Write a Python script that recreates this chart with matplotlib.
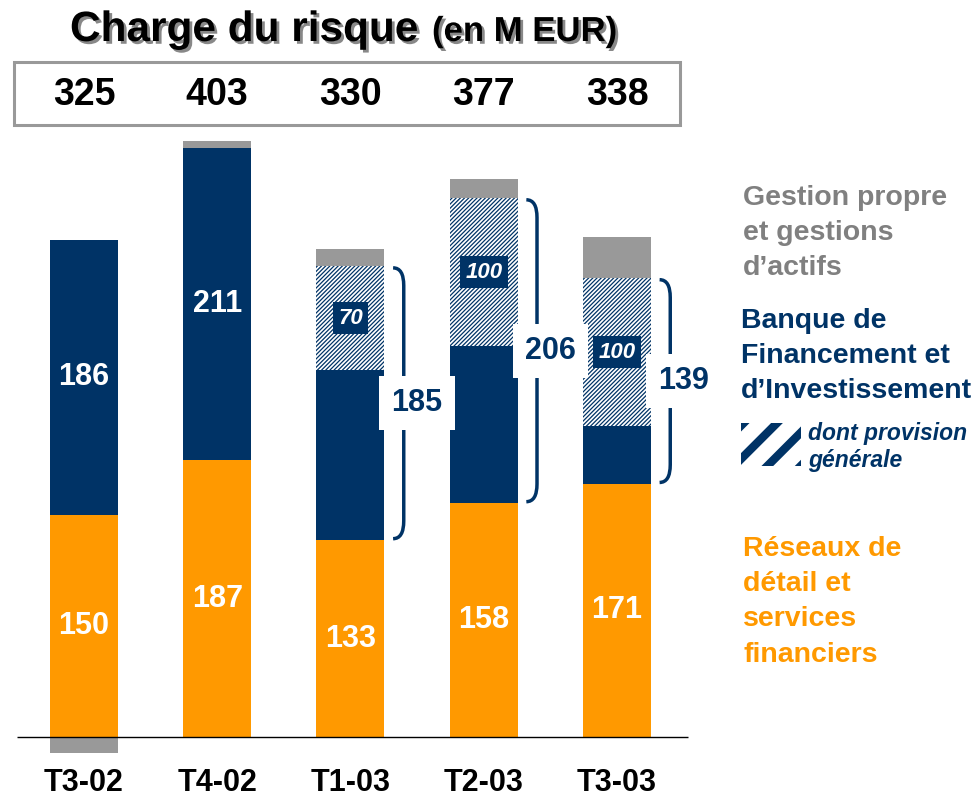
import matplotlib
matplotlib.use("Agg")
import matplotlib.pyplot as plt
import matplotlib.patheffects as pe
from matplotlib.patches import Rectangle, PathPatch
from matplotlib.path import Path

plt.rcParams['font.family'] = ['Liberation Sans', 'DejaVu Sans']
plt.rcParams['font.weight'] = 'bold'

# data (M EUR)
quarters = ['T3-02', 'T4-02', 'T1-03', 'T2-03', 'T3-03']
reseaux = [150, 187, 133, 158, 171]
bfi = [186, 211, 185, 206, 139]
provision = [0, 0, 70, 100, 100]
gestion = [-11, 5, 12, 13, 28]
totals = [325, 403, 330, 377, 338]
brace_bars = [2, 3, 4]

ORANGE = '#FF9900'
NAVY = '#003366'
GRAY = '#999999'

fig = plt.figure(figsize=(9.79, 7.99), dpi=100)
ax = fig.add_axes([0, 0, 1, 1])
# axes covers whole figure: 1.48 px per M EUR, bar spacing 133 px
ax.set_xlim(-0.630, 6.717)
ax.set_ylim(-41.9, 498)
ax.axis('off')

x = list(range(len(quarters)))
w = 0.51
solid = [b - p for b, p in zip(bfi, provision)]
top_bfi = [r + b for r, b in zip(reseaux, bfi)]

ax.bar(x, reseaux, w, color=ORANGE, linewidth=0)
ax.bar(x, solid, w, bottom=reseaux, color=NAVY, linewidth=0)
with plt.rc_context({'hatch.linewidth': 0.9}):
    ax.bar(x, provision, w, bottom=[r + s for r, s in zip(reseaux, solid)],
           color='white', edgecolor=NAVY, hatch='////////', linewidth=0)
g_bottom = [t if g > 0 else 0 for t, g in zip(top_bfi, gestion)]
ax.bar(x, gestion, w, bottom=g_bottom, color=GRAY, linewidth=0)
ax.hlines(0, -0.5, 4.53, color='black', linewidth=1)

# labels inside the bars
for i in x:
    ax.text(i, reseaux[i] / 2, str(reseaux[i]), ha='center', va='center',
            color='white', fontsize=22)
    if provision[i] == 0:
        ax.text(i, reseaux[i] + bfi[i] / 2, str(bfi[i]), ha='center', va='center',
                color='white', fontsize=22)
    else:
        ax.text(i, reseaux[i] + solid[i] + provision[i] / 2, str(provision[i]),
                ha='center', va='center', color='white', fontsize=16, style='italic',
                bbox=dict(boxstyle='square,pad=0.25', fc=NAVY, ec='none'))

# braces around BFI for the last three quarters
for i in brace_bars:
    bx = i + 0.40
    y0 = reseaux[i] + 1
    y1 = top_bfi[i] - 1
    dx, dy = 0.08, 12
    verts = [(bx - dx, y1), (bx, y1), (bx, y1 - dy),
             (bx, y0 + dy),
             (bx, y0), (bx - dx, y0)]
    codes = [Path.MOVETO, Path.CURVE3, Path.CURVE3, Path.LINETO, Path.CURVE3, Path.CURVE3]
    ax.add_patch(PathPatch(Path(verts, codes), fill=False, ec=NAVY, lw=2.5))
    ax.text(i + 0.5, (y0 + y1) / 2, str(bfi[i]), ha='center', va='center',
            color=NAVY, fontsize=22,
            bbox=dict(boxstyle='square,pad=0.4', fc='white', ec='none'))

# category labels
for i in x:
    ax.text(i, 0.02, quarters[i], transform=ax.get_xaxis_transform(),
            ha='center', va='center', fontsize=22, color='black')

# totals box
fig.patches.append(Rectangle((14 / 979, 1 - 125 / 799), 666 / 979, 63 / 799,
                             transform=fig.transFigure, fill=False,
                             ec=GRAY, lw=2.2))
for i in x:
    ax.text(i, 1 - 95 / 799, str(totals[i]), transform=ax.get_xaxis_transform(),
            ha='center', va='center', fontsize=27, color='black')

# title
shadow = [pe.SimplePatchShadow(offset=(2, -2), shadow_rgbFace='#888888', alpha=1),
          pe.Normal()]
fig.text(70 / 979, 1 - 41 / 799, 'Charge du risque', fontsize=30.5,
         va='baseline', path_effects=shadow)
fig.text(432 / 979, 1 - 41 / 799, '(en M EUR)', fontsize=25,
         va='baseline', path_effects=shadow)

# legend texts
fig.text(743 / 979, 1 - 185 / 799, 'Gestion propre\net gestions\nd\u2019actifs',
         color='#808080', fontsize=20.5, va='top', ha='left', linespacing=1.46)
fig.text(741 / 979, 1 - 308 / 799, 'Banque de\nFinancement et\nd\u2019Investissement',
         color=NAVY, fontsize=20.5, va='top', ha='left', linespacing=1.46)
fig.text(743 / 979, 1 - 536 / 799, 'R\u00e9seaux de\nd\u00e9tail et\nservices\nfinanciers',
         color=ORANGE, fontsize=20.5, va='top', ha='left', linespacing=1.46)
fig.text(808 / 979, 1 - 447 / 799, 'dont provision\ng\u00e9n\u00e9rale',
         color=NAVY, fontsize=16.5, style='italic', va='center', ha='left',
         linespacing=1.2)
with plt.rc_context({'hatch.linewidth': 6}):
    sw = Rectangle((741 / 979, 1 - 466 / 799), 60 / 979, 43 / 799,
                   transform=fig.transFigure, fc='white', ec=NAVY, lw=0, hatch='/')
fig.patches.append(sw)

fig.savefig('out.png', dpi=100)
